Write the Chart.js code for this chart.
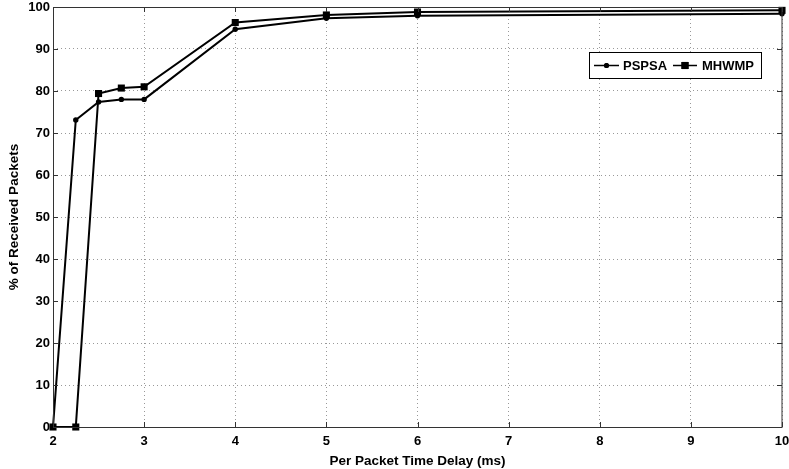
<!DOCTYPE html>
<html>
<head>
<meta charset="utf-8">
<script src="https://cdn.jsdelivr.net/npm/chart.js@4/dist/chart.umd.min.js"></script>
<style>
  html, body { margin: 0; padding: 0; background: #fff; }
  #wrap { width: 789px; height: 469px; position: relative; }
</style>
</head>
<body>
<div id="wrap"><canvas id="c" width="789" height="469"></canvas></div>
<script>
// ---- data ----
const delays = [2, 2.25, 2.5, 2.75, 3, 4, 5, 6, 10];
const pspsa  = [0, 73.1, 77.4, 78.0, 78.0, 94.7, 97.3, 97.9, 98.4];
const mhwmp  = [0, 0, 79.4, 80.7, 81.0, 96.3, 98.1, 98.8, 99.2];
const seriesNames = ['PSPSA', 'MHWMP'];
const xTitle = 'Per Packet Time Delay (ms)';
const yTitle = '% of Received Packets';
const xMin = 2, xMax = 10, xStep = 1;
const yMin = 0, yMax = 100, yStep = 10;

const FONT = 'Liberation Sans, Arial, Helvetica, sans-serif';

function toPoints(xs, ys) { return xs.map((x, i) => ({ x: x, y: ys[i] })); }

const framePlugin = {
  id: 'frame',
  afterDatasetsDraw(chart) {
    const { ctx, chartArea: a, scales } = chart;
    ctx.save();
    ctx.strokeStyle = '#333';
    ctx.lineWidth = 1;
    // frame
    ctx.strokeRect(Math.round(a.left) + 0.5, Math.round(a.top) + 0.5,
                   Math.round(a.right - a.left) - 1 + 0.5, Math.round(a.bottom - a.top));
    // inward ticks
    const tl = 5;
    ctx.beginPath();
    scales.x.ticks.forEach(t => {
      const px = Math.round(scales.x.getPixelForValue(t.value)) + 0.5;
      ctx.moveTo(px, a.bottom); ctx.lineTo(px, a.bottom - tl);
      ctx.moveTo(px, a.top); ctx.lineTo(px, a.top + tl);
    });
    scales.y.ticks.forEach(t => {
      const py = Math.round(scales.y.getPixelForValue(t.value)) + 0.5;
      ctx.moveTo(a.left, py); ctx.lineTo(a.left + tl, py);
      ctx.moveTo(a.right, py); ctx.lineTo(a.right - tl, py);
    });
    ctx.stroke();
    ctx.restore();
  },
  afterDraw(chart) {
    // legend box inside plot area (upper right)
    const { ctx } = chart;
    const bx = 589.5, by = 52.5, bw = 172, bh = 26;
    ctx.save();
    ctx.fillStyle = '#fff';
    ctx.fillRect(bx, by, bw, bh);
    ctx.strokeStyle = '#000';
    ctx.lineWidth = 1;
    ctx.strokeRect(bx, by, bw, bh);
    const cy = by + bh / 2;
    const entries = [
      { x0: 594, x1: 619, tx: 623, style: 'circle', r: 2.5 },
      { x0: 673, x1: 697, tx: 702, style: 'rect', r: 5 }
    ];
    ctx.font = 'bold 13px ' + FONT;
    ctx.textBaseline = 'middle';
    ctx.fillStyle = '#000';
    entries.forEach((e, i) => {
      ctx.strokeStyle = '#000';
      ctx.lineWidth = 1.5;
      ctx.beginPath();
      ctx.moveTo(e.x0, cy); ctx.lineTo(e.x1, cy);
      ctx.stroke();
      Chart.helpers.drawPoint(ctx, { pointStyle: e.style, radius: e.r, borderWidth: 0 }, (e.x0 + e.x1) / 2, cy);
      ctx.fill();
      ctx.fillText(chart.data.datasets[i].label, e.tx, cy + 0.5);
    });
    ctx.restore();
  }
};

const ctx = document.getElementById('c').getContext('2d');
new Chart(ctx, {
  type: 'line',
  data: {
    datasets: [
      {
        label: seriesNames[0],
        data: toPoints(delays, pspsa),
        borderColor: '#000', backgroundColor: '#000',
        borderWidth: 2, pointStyle: 'circle', pointRadius: 2.7,
        pointBorderWidth: 0, tension: 0, clip: false
      },
      {
        label: seriesNames[1],
        data: toPoints(delays, mhwmp),
        borderColor: '#000', backgroundColor: '#000',
        borderWidth: 2, pointStyle: 'rect', pointRadius: 5,
        pointBorderWidth: 0, tension: 0, clip: false
      }
    ]
  },
  options: {
    responsive: false,
    animation: false,
    devicePixelRatio: 1,
    layout: { padding: { top: 7, right: 7, left: 0, bottom: 0 } },
    plugins: { legend: { display: false }, tooltip: { enabled: false } },
    scales: {
      x: {
        type: 'linear', min: xMin, max: xMax,
        ticks: { stepSize: xStep, color: '#000', padding: 7,
                 font: { family: FONT, size: 13, weight: 'bold' } },
        grid: { color: '#999', drawTicks: false },
        border: { display: false, dash: [1, 3] },
        title: { display: true, text: xTitle, color: '#000',
                 font: { family: FONT, size: 13.5, weight: 'bold' },
                 padding: { top: 1, bottom: 0 } },
        afterFit(s) { s.height = 42; s.paddingLeft = 0; s.paddingRight = 0; }
      },
      y: {
        type: 'linear', min: yMin, max: yMax,
        ticks: { stepSize: yStep, color: '#000', padding: 3,
                 font: { family: FONT, size: 13, weight: 'bold' } },
        grid: { color: '#999', drawTicks: false },
        border: { display: false, dash: [1, 3] },
        title: { display: true, text: yTitle, color: '#000',
                 font: { family: FONT, size: 13.5, weight: 'bold' },
                 padding: { top: 6, bottom: 0 } },
        afterFit(s) { s.width = 53; s.paddingTop = 0; s.paddingBottom = 0; }
      }
    }
  },
  plugins: [framePlugin]
});
</script>
</body>
</html>
